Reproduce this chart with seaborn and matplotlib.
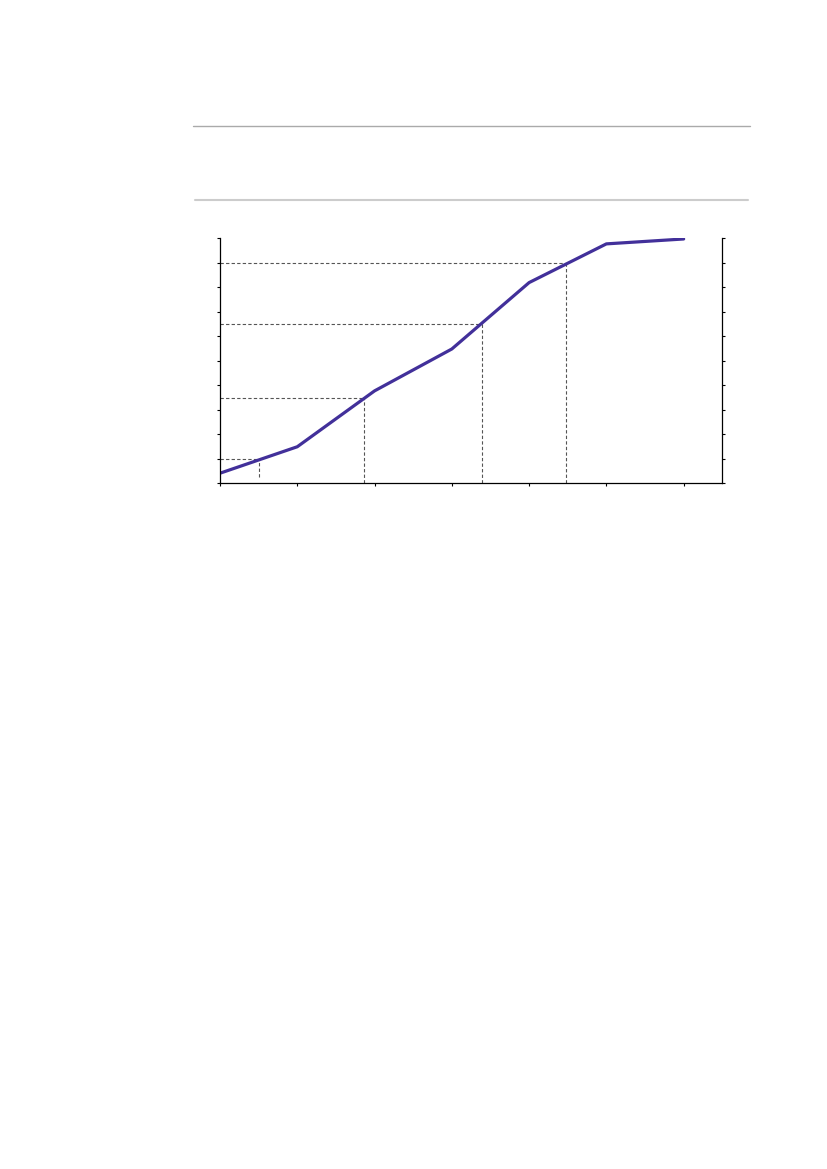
import numpy as np
import seaborn as sns
import matplotlib.pyplot as plt
from matplotlib.lines import Line2D

# cumulative curve (x in class steps, y in percent)
steps = [0, 1, 2, 3, 4, 5, 6]
cum_pct = [4.1, 14.9, 37.7, 54.8, 81.9, 97.7, 99.7]

# reading guides (percentile levels and where they hit the curve)
guide_x = [0.5, 1.86, 3.385, 4.476]
guide_y = [10, 34.7, 65, 89.7]
guide_floor = [2.7, 0, 0, 0]

sns.set_style('ticks')
fig = plt.figure(figsize=(8.27, 11.69), dpi=100)
ax = fig.add_axes([0.266, 0.5866, 0.6074, 0.2096])

sns.lineplot(x=steps, y=cum_pct, ax=ax, color='#42309a', linewidth=2.3)

for gx, gy, gf in zip(guide_x, guide_y, guide_floor):
    ax.plot([0, gx], [gy, gy], color='#555555', linestyle=(0, (3, 2)), linewidth=0.8, zorder=1)
    ax.plot([gx, gx], [gf, gy], color='#555555', linestyle=(0, (3, 2)), linewidth=0.8, zorder=1)

ax.set_xlim(0, 6.5)
ax.set_ylim(0, 100)
ax.set_xticks(range(0, 7))
ax.set_yticks(range(0, 101, 10))
ax.yaxis.set_ticks_position('both')
ax.tick_params(direction='out', length=2.5, width=0.8, color='black',
               labelleft=False, labelright=False, labelbottom=False)
sns.despine(ax=ax, top=True, right=False)
for s in ['left', 'right', 'bottom']:
    ax.spines[s].set_linewidth(0.9)
    ax.spines[s].set_color('black')
ax.set_xlabel('')
ax.set_ylabel('')

# rules above the chart
fig.add_artist(Line2D([0.233, 0.907], [0.892, 0.892], color='#aaaaaa', linewidth=1.0))
fig.add_artist(Line2D([0.236, 0.905], [0.829, 0.829], color='#cccccc', linewidth=1.5))

fig.savefig('out.png', dpi=100)
